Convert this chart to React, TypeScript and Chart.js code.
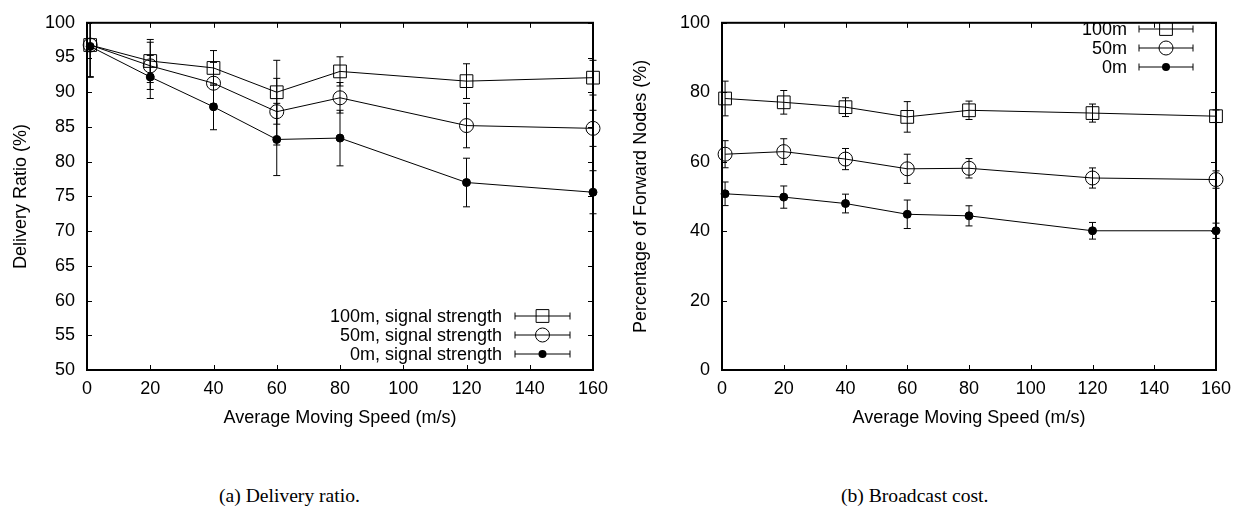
import React, { useEffect, useRef } from "react";
import { Chart, registerables } from "chart.js";

Chart.register(...registerables);

// ---------- data ----------
const speeds = [1, 20, 40, 60, 80, 120, 160];

const deliveryTicksStep = 5;
const costTicksStep = 20;
const speedTickStep = 20;

const delivery100 = [96.8, 94.5, 93.5, 90.0, 93.0, 91.6, 92.1];
const delivery100Err = [4.6, 3.1, 2.5, 4.6, 2.1, 2.5, 2.5];
const delivery50 = [96.8, 93.8, 91.3, 87.2, 89.2, 85.2, 84.8];
const delivery50Err = [4.6, 3.4, 3.0, 4.8, 2.2, 3.2, 2.6];
const delivery0 = [96.6, 92.2, 87.9, 83.2, 83.4, 77.0, 75.6];
const delivery0Err = [4.4, 3.1, 3.3, 5.2, 4.0, 3.5, 3.1];

const cost100 = [78.2, 77.1, 75.7, 72.9, 74.8, 74.0, 73.1];
const cost100Err = [5.0, 3.4, 2.7, 4.4, 2.65, 2.6, 1.8];
const cost50 = [62.15, 62.9, 60.75, 57.95, 58.1, 55.3, 54.85];
const cost50Err = [3.9, 3.7, 3.05, 4.2, 2.8, 2.9, 2.5];
const cost0 = [50.75, 49.8, 47.95, 44.85, 44.4, 40.1, 40.1];
const cost0Err = [3.4, 3.2, 2.7, 4.1, 2.9, 2.4, 2.2];

const deliveryLabels = ["100m, signal strength", "50m, signal strength", "0m, signal strength"];
const costLabels = ["100m", "50m", "0m"];

const FONT = '"Liberation Sans", Arial, Helvetica, sans-serif';

type Marker = "square" | "circle" | "dot";

interface Series {
  label: string;
  values: number[];
  errors: number[];
  marker: Marker;
}

interface PanelProps {
  width: number;
  height: number;
  area: { left: number; right: number; top: number; bottom: number };
  yMin: number;
  yMax: number;
  yStep: number;
  yTitle: string;
  series: Series[];
  legend: { textRight: number; x1: number; x2: number; rows: number[] };
}

function drawMarker(ctx: CanvasRenderingContext2D, m: Marker, x: number, y: number) {
  ctx.save();
  ctx.strokeStyle = "#000";
  ctx.fillStyle = "#000";
  ctx.lineWidth = 1;
  ctx.beginPath();
  if (m === "square") {
    const s = 6.4;
    ctx.rect(x - s, y - s, 2 * s, 2 * s);
    ctx.stroke();
  } else if (m === "circle") {
    ctx.arc(x, y, 7, 0, Math.PI * 2);
    ctx.stroke();
  } else {
    ctx.arc(x, y, 4, 0, Math.PI * 2);
    ctx.fill();
  }
  ctx.restore();
}

function Panel(props: PanelProps) {
  const ref = useRef<HTMLCanvasElement | null>(null);

  useEffect(() => {
    const canvas = ref.current;
    if (!canvas) return;
    const { width, height, area, series, legend } = props;

    const framePlugin = {
      id: "frame",
      beforeDatasetsDraw(chart: any) {
        const ctx = chart.ctx as CanvasRenderingContext2D;
        const ca = chart.chartArea;
        const xs = chart.scales.x;
        const ys = chart.scales.y;
        ctx.save();
        ctx.strokeStyle = "#000";
        ctx.lineWidth = 1;
        const tl = 5;
        ctx.beginPath();
        xs.ticks.forEach((t: any) => {
          const px = Math.round(xs.getPixelForValue(t.value)) + 0.5;
          ctx.moveTo(px, ca.bottom);
          ctx.lineTo(px, ca.bottom - tl);
          ctx.moveTo(px, ca.top);
          ctx.lineTo(px, ca.top + tl);
        });
        ys.ticks.forEach((t: any) => {
          const py = Math.round(ys.getPixelForValue(t.value)) + 0.5;
          ctx.moveTo(ca.left, py);
          ctx.lineTo(ca.left + tl, py);
          ctx.moveTo(ca.right, py);
          ctx.lineTo(ca.right - tl, py);
        });
        ctx.stroke();
        ctx.lineWidth = 2;
        ctx.strokeRect(ca.left, ca.top, ca.right - ca.left, ca.bottom - ca.top);

        // error bars
        ctx.beginPath();
        ctx.rect(ca.left - 30, ca.top, ca.right - ca.left + 60, ca.bottom - ca.top);
        ctx.clip();
        ctx.lineWidth = 1;
        ctx.beginPath();
        series.forEach((s) => {
          s.values.forEach((v, i) => {
            const px = xs.getPixelForValue(speeds[i]);
            const yt = ys.getPixelForValue(v + s.errors[i]);
            const yb = ys.getPixelForValue(v - s.errors[i]);
            const c = 3.5;
            ctx.moveTo(px, yt);
            ctx.lineTo(px, yb);
            ctx.moveTo(px - c, yt);
            ctx.lineTo(px + c, yt);
            ctx.moveTo(px - c, yb);
            ctx.lineTo(px + c, yb);
          });
        });
        ctx.stroke();
        ctx.restore();
      },
      afterDatasetsDraw(chart: any) {
        const ctx = chart.ctx as CanvasRenderingContext2D;
        ctx.save();
        ctx.font = `18px ${FONT}`;
        ctx.fillStyle = "#000";
        ctx.strokeStyle = "#000";
        ctx.textAlign = "right";
        ctx.textBaseline = "middle";
        ctx.lineWidth = 1;
        series.forEach((s, i) => {
          const y = legend.rows[i];
          ctx.fillText(s.label, legend.textRight, y + 1);
          ctx.beginPath();
          ctx.moveTo(legend.x1, y);
          ctx.lineTo(legend.x2, y);
          ctx.moveTo(legend.x1, y - 3.5);
          ctx.lineTo(legend.x1, y + 3.5);
          ctx.moveTo(legend.x2, y - 3.5);
          ctx.lineTo(legend.x2, y + 3.5);
          ctx.stroke();
          drawMarker(ctx, s.marker, (legend.x1 + legend.x2) / 2, y);
        });
        ctx.restore();
      },
    };

    const datasets = series.map((s) => ({
      label: s.label,
      data: speeds.map((x, i) => ({ x, y: s.values[i] })),
      borderColor: "#000",
      borderWidth: 1,
      tension: 0,
      fill: false,
      clip: false as any,
      pointStyle: s.marker === "square" ? "rect" : "circle",
      pointRadius: s.marker === "square" ? 9 : s.marker === "circle" ? 7 : 4,
      pointBorderWidth: 1,
      pointBorderColor: "#000",
      pointBackgroundColor: s.marker === "dot" ? "#000" : "rgba(0,0,0,0)",
    }));

    const chart = new Chart(canvas, {
      type: "line",
      data: { datasets: datasets as any },
      options: {
        animation: false,
        responsive: false,
        maintainAspectRatio: false,
        devicePixelRatio: 1,
        events: [],
        layout: {
          padding: { top: area.top, right: width - area.right, left: 0, bottom: 0 },
        },
        plugins: {
          legend: { display: false },
          tooltip: { enabled: false },
          title: { display: false },
        },
        scales: {
          x: {
            type: "linear",
            min: 0,
            max: 160,
            grid: { display: false, drawTicks: false },
            border: { display: false },
            ticks: {
              stepSize: speedTickStep,
              color: "#000",
              padding: 8,
              font: { family: FONT, size: 18 },
              maxRotation: 0,
            },
            title: {
              display: true,
              text: "Average Moving Speed (m/s)",
              color: "#000",
              font: { family: FONT, size: 18 },
              padding: { top: 0, bottom: 11 },
            },
            afterFit: (s: any) => {
              s.height = height - area.bottom;
            },
          },
          y: {
            type: "linear",
            min: props.yMin,
            max: props.yMax,
            grid: { display: false, drawTicks: false },
            border: { display: false },
            ticks: {
              stepSize: props.yStep,
              color: "#000",
              padding: 12,
              font: { family: FONT, size: 18 },
            },
            title: {
              display: true,
              text: props.yTitle,
              color: "#000",
              font: { family: FONT, size: 18 },
              padding: { top: 10, bottom: 0 },
            },
            afterFit: (s: any) => {
              s.width = area.left;
            },
          },
        },
      },
      plugins: [framePlugin],
    });

    return () => {
      chart.destroy();
    };
  }, []);

  return (
    <canvas
      ref={ref}
      width={props.width}
      height={props.height}
      style={{ width: props.width, height: props.height, display: "block" }}
    />
  );
}

const deliverySeries: Series[] = [
  { label: deliveryLabels[0], values: delivery100, errors: delivery100Err, marker: "square" },
  { label: deliveryLabels[1], values: delivery50, errors: delivery50Err, marker: "circle" },
  { label: deliveryLabels[2], values: delivery0, errors: delivery0Err, marker: "dot" },
];

const costSeries: Series[] = [
  { label: costLabels[0], values: cost100, errors: cost100Err, marker: "square" },
  { label: costLabels[1], values: cost50, errors: cost50Err, marker: "circle" },
  { label: costLabels[2], values: cost0, errors: cost0Err, marker: "dot" },
];

export default function App() {
  const captionStyle: React.CSSProperties = {
    position: "absolute",
    top: 486,
    fontFamily: '"Liberation Serif", "Times New Roman", serif',
    fontSize: 19.6,
    lineHeight: "20px",
    color: "#000",
    whiteSpace: "nowrap",
  };
  return (
    <div
      style={{
        position: "absolute",
        left: 0,
        top: 0,
        width: 1246,
        height: 512,
        background: "#fff",
        overflow: "hidden",
      }}
    >
      <div style={{ position: "absolute", left: 0, top: 0 }}>
        <Panel
          width={620}
          height={440}
          area={{ left: 87, right: 593, top: 13, bottom: 370 }}
          yMin={50}
          yMax={100}
          yStep={deliveryTicksStep}
          yTitle="Delivery Ratio (%)"
          series={deliverySeries}
          legend={{ textRight: 502, x1: 515, x2: 570, rows: [316, 335, 354] }}
        />
      </div>
      <div style={{ position: "absolute", left: 620, top: 0 }}>
        <Panel
          width={626}
          height={440}
          area={{ left: 102, right: 596, top: 13, bottom: 370 }}
          yMin={0}
          yMax={100}
          yStep={costTicksStep}
          yTitle="Percentage of Forward Nodes (%)"
          series={costSeries}
          legend={{ textRight: 507, x1: 519, x2: 573, rows: [29, 48, 67] }}
        />
      </div>
      <div style={{ ...captionStyle, left: 219 }}>(a) Delivery ratio.</div>
      <div style={{ ...captionStyle, left: 841 }}>(b) Broadcast cost.</div>
    </div>
  );
}
